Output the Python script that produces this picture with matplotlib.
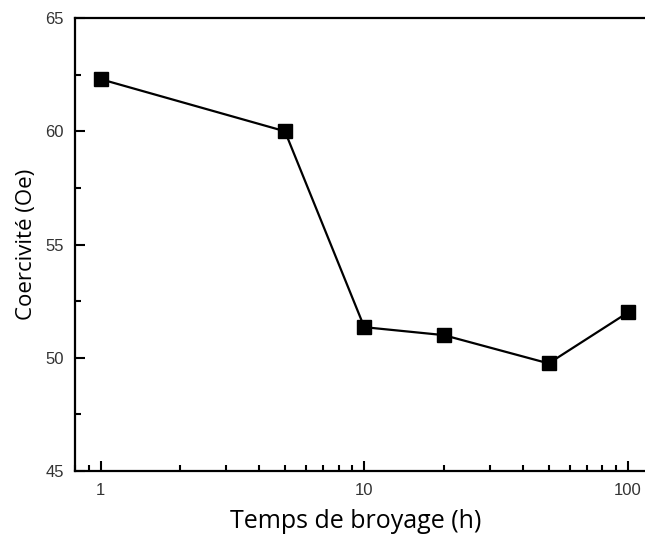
import matplotlib.pyplot as plt
from matplotlib.ticker import MultipleLocator, LogLocator, NullFormatter, FixedLocator, FixedFormatter

temps = [1, 5, 10, 20, 50, 100]
coercivite = [62.3, 60.0, 51.35, 51.0, 49.75, 52.0]

fig = plt.figure(figsize=(6.45, 5.41), dpi=100)
# axes runs past the right edge of the figure, like the cropped original
ax = fig.add_axes([0.1163, 0.1294, 0.897, 0.8373])

ax.plot(temps, coercivite, color='black', linewidth=1.6, marker='s',
        markersize=10, markerfacecolor='black', markeredgecolor='black')

ax.set_xscale('log')
ax.set_xlim(0.8, 125)
ax.set_ylim(45, 65)

ax.xaxis.set_major_locator(FixedLocator([1, 10, 100]))
ax.xaxis.set_major_formatter(FixedFormatter(['1', '10', '100']))
ax.xaxis.set_minor_locator(LogLocator(base=10, subs=range(2, 10)))
ax.xaxis.set_minor_formatter(NullFormatter())
ax.yaxis.set_major_locator(MultipleLocator(5))
ax.yaxis.set_minor_locator(MultipleLocator(2.5))

ax.tick_params(which='both', direction='in', width=1.5, top=False, right=False,
               labelsize=12, labelcolor='#333333', labelfontfamily='Liberation Sans')
ax.tick_params(which='major', length=7)
ax.tick_params(which='minor', length=4)
ax.tick_params(axis='x', which='major', pad=9)
ax.tick_params(axis='y', which='major', pad=8)

for s in ax.spines.values():
    s.set_linewidth(1.6)
ax.spines['right'].set_visible(False)

ax.set_xlabel('Temps de broyage (h)', fontsize=18, family='Open Sans')
ax.xaxis.set_label_coords(0.485, -0.085)
ax.set_ylabel('Coercivité (Oe)', fontsize=16, family='Open Sans', labelpad=6)

fig.savefig('out.png', dpi=100)
